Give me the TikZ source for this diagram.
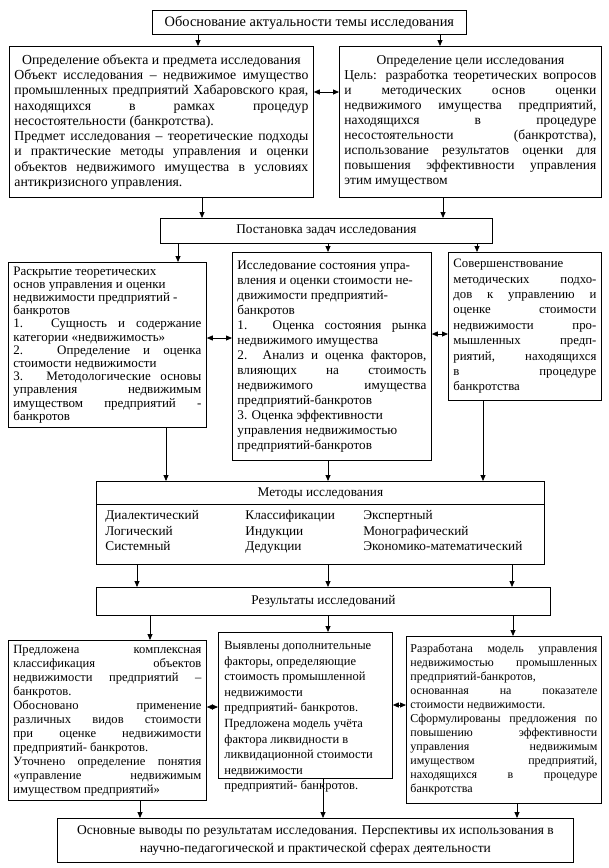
\documentclass[tikz,border=0pt]{standalone}
\usepackage{fontspec}
\setmainfont{Liberation Serif}
\usetikzlibrary{arrows.meta, positioning}
\newcommand{\fs}[2]{\fontsize{#1}{#2}\selectfont}
\newcommand{\ctr}[1]{\hspace*{\fill}#1\hspace*{\fill}\\}

\begin{document}
\begin{tikzpicture}[x=1pt, y=-1pt, line width=0.8pt,
        every node/.style={inner sep=0pt},
        box/.style={draw, rectangle, anchor=north west, inner xsep=5pt, inner ysep=2pt, align=justify},
        arr/.style={-{Triangle[length=6pt, width=5pt]}},
        dbl/.style={{Triangle[length=6pt, width=5pt]}-{Triangle[length=6pt, width=5pt]}}
    ]
    \useasboundingbox (0,0) rectangle (609,868);

    % Top level
    \node (topic) [box, align=center, minimum width=314, minimum height=24, font=\fs{14.4}{16}] at (152,10) {Обоснование актуальности темы исследования};

    \node (object) [box, text width=294, minimum height=151, font=\fs{13.8}{15.3}] at (9,46) {%
        \ctr{Определение объекта и предмета исследования}
        Объект исследования – недвижимое имущество\linebreak
        промышленных предприятий Хабаровского края,\linebreak
        находящихся в рамках процедур\linebreak
        несостоятельности (банкротства).\\
        Предмет исследования – теоретические подходы\linebreak
        и практические методы управления и оценки\linebreak
        объектов недвижимого имущества в условиях\linebreak
        антикризисного управления.};
    \node (goal) [box, text width=252, minimum height=151, font=\fs{13.5}{15}] at (339,46) {%
        \ctr{Определение цели исследования}
        Цель: разработка теоретических вопросов\linebreak
        и методических основ оценки\linebreak
        недвижимого имущества предприятий,\linebreak
        находящихся в процедуре\linebreak
        несостоятельности (банкротства),\linebreak
        использование результатов оценки для\linebreak
        повышения эффективности управления\linebreak
        этим имуществом};

    \node (tasks) [box, align=center, minimum width=332, minimum height=25, font=\fs{13.3}{15}] at (160,218) {Постановка задач исследования};

    % Tasks
    \node (theory) [box, text width=188, minimum height=165, font=\fs{13}{13.2}] at (8,262) {%
        Раскрытие теоретических\\
        основ управления и оценки\\
        недвижимости предприятий -\\
        банкротов\\
        1. Сущность и содержание\linebreak
        категории «недвижимость»\\
        2. Определение и оценка\linebreak
        стоимости недвижимости\\
        3. Методологические основы\linebreak
        управления недвижимым\linebreak
        имуществом предприятий -\linebreak
        банкротов};
    \node (state) [box, text width=189, minimum height=208, font=\fs{13.2}{15}] at (232,252) {%
        Исследование состояния упра-\\
        вления и оценки стоимости не-\\
        движимости предприятий-\\
        банкротов\\
        1. Оценка состояния рынка\linebreak
        недвижимого имущества\\
        2. Анализ и оценка факторов,\linebreak
        влияющих на стоимость\linebreak
        недвижимого имущества\linebreak
        предприятий-банкротов\\
        3. Оценка эффективности\\
        управления недвижимостью\\
        предприятий-банкротов};
    \node (improve) [box, text width=143, minimum height=148, font=\fs{12.8}{15.4}] at (448,252) {%
        Совершенствование\\
        методических подхо-\linebreak
        дов к управлению и\linebreak
        оценке стоимости\linebreak
        недвижимости про-\linebreak
        мышленных предп-\linebreak
        риятий, находящихся\linebreak
        в процедуре\linebreak
        банкротства};

    % Methods
    \node (methods) [box, minimum width=448, minimum height=83] at (96,481) {};
    \node (methHead) [font=\fs{13.3}{15}] at (methods.north |- 0,493) {Методы исследования};
    \draw (methods.west |- 0,504) -- (methods.east |- 0,504);
    \node (methA) [anchor=north west, align=left, font=\fs{13.3}{15.5}] at (105,510) {Диалектический\\Логический\\Системный};
    \node (methB) [anchor=north west, align=left, font=\fs{13.3}{15.5}] at (245,510) {Классификации\\Индукции\\Дедукции};
    \node (methC) [anchor=north west, align=left, font=\fs{13.3}{15.5}] at (363,510) {Экспертный\\Монографический\\Экономико-математический};

    \node (results) [box, align=center, minimum width=454, minimum height=28, font=\fs{13.3}{15}] at (96,587) {Результаты исследований};

    % Results
    \node (resA) [box, text width=188, minimum height=160, font=\fs{12.6}{14}] at (8,640) {%
        Предложена комплексная\linebreak
        классификация объектов\linebreak
        недвижимости предприятий –\linebreak
        банкротов.\\
        Обосновано применение\linebreak
        различных видов стоимости\linebreak
        при оценке недвижимости\linebreak
        предприятий- банкротов.\\
        Уточнено определение понятия\linebreak
        «управление недвижимым\linebreak
        имуществом предприятий»};
    \node (resB) [box, minimum width=174, minimum height=146] at (218,632) {};
    \node (resBtext) [anchor=north west, align=left, font=\fs{12.5}{15.6}] at (224,641) {%
        Выявлены дополнительные\\
        факторы, определяющие\\
        стоимость промышленной\\
        недвижимости\\
        предприятий- банкротов.\\
        Предложена модель учёта\\
        фактора ликвидности в\\
        ликвидационной стоимости\\
        недвижимости\\
        предприятий- банкротов.};
    \node (resC) [box, inner xsep=4pt, text width=187, minimum height=167, font=\fs{12}{14}] at (406,636) {%
        Разработана модель управления\linebreak
        недвижимостью промышленных\linebreak
        предприятий-банкротов,\\
        основанная на показателе\linebreak
        стоимости недвижимости.\\
        Сформулированы предложения по\linebreak
        повышению эффективности\linebreak
        управления недвижимым\linebreak
        имуществом предприятий,\linebreak
        находящихся в процедуре\linebreak
        банкротства};

    \node (summary) [box, align=center, minimum width=516, minimum height=44, font=\fs{13.5}{18}] at (57,818) {Основные выводы по результатам исследования. Перспективы их использования в\\научно-педагогической и практической сферах деятельности};

    % Connectors
    \draw [arr] (topic.south -| 198,0) -- (object.north -| 198,0);
    \draw [arr] (topic.south -| 440,0) -- (goal.north -| 440,0);
    \draw [dbl] (object.east |- 0,92) -- (goal.west |- 0,92);
    \draw [arr] (object.south -| 202,0) -- (tasks.north -| 202,0);
    \draw [arr] (goal.south -| 443,0) -- (tasks.north -| 443,0);
    \draw [arr] (tasks.south -| 178,0) -- (theory.north -| 178,0);
    \draw [arr] (tasks.south -| 328,0) -- (state.north -| 328,0);
    \draw [arr] (tasks.south -| 477,0) -- (improve.north -| 477,0);
    \draw [dbl] (theory.east |- 0,338) -- (state.west |- 0,338);
    \draw [dbl] (state.east |- 0,334) -- (improve.west |- 0,334);
    \draw [arr] (theory.south -| 166,0) -- (methods.north -| 166,0);
    \draw [arr] (state.south -| 328,0) -- (methods.north -| 328,0);
    \draw [arr] (improve.south -| 483,0) -- (methods.north -| 483,0);
    \foreach \x in {137,328,512}
        \draw [arr] (methods.south -| \x,0) -- (results.north -| \x,0);
    \draw [arr] (results.south -| 150,0) -- (resA.north -| 150,0);
    \draw [arr] (results.south -| 328,0) -- (resB.north -| 328,0);
    \draw [arr] (results.south -| 513,0) -- (resC.north -| 513,0);
    \draw [dbl] (resA.east |- 0,707) -- (resB.west |- 0,707);
    \draw [dbl] (resB.east |- 0,705) -- (resC.west |- 0,705);
    \draw [arr] (resA.south -| 140,0) -- (summary.north -| 140,0);
    \draw [arr] (resB.south -| 323,0) -- (summary.north -| 323,0);
    \draw [arr] (resC.south -| 517,0) -- (summary.north -| 517,0);

\end{tikzpicture}
\end{document}
